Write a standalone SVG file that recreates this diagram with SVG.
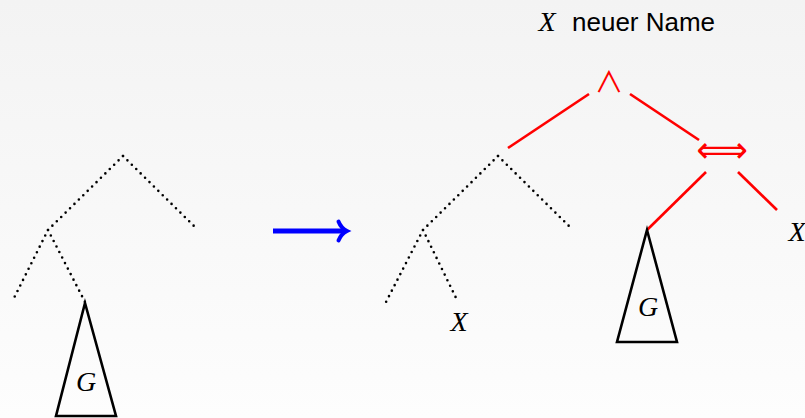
<svg xmlns="http://www.w3.org/2000/svg" width="805" height="418" viewBox="0 0 805 418">
<style>
.dot{fill:none;stroke:#000;stroke-width:2.6;stroke-linecap:round;stroke-dasharray:0 6.2}
.red{fill:none;stroke:#ff0000;stroke-width:2.6}
.tri{fill:none;stroke:#000;stroke-width:2.6;stroke-linejoin:miter}
.mi{font-family:"Liberation Serif",serif;font-style:italic;font-size:28px;fill:#000}
.sans{font-family:"Liberation Sans",sans-serif;font-size:26px;fill:#000}
.op{font-family:"DejaVu Sans",sans-serif;fill:#ff0000}
</style>
<defs>
<linearGradient id="bg" x1="0" y1="0" x2="0" y2="1">
<stop offset="0" stop-color="#f3f3f3"/>
<stop offset="1" stop-color="#fdfdfd"/>
</linearGradient>
</defs>
<rect width="805" height="418" fill="url(#bg)"/>
<g id="connectors">
<line class="dot" x1="123" y1="156" x2="197" y2="229"/>
<line class="dot" x1="123" y1="156" x2="48" y2="230"/>
<line class="dot" x1="48" y1="230" x2="12" y2="302"/>
<line class="dot" x1="48" y1="230" x2="85" y2="302"/>
<line class="dot" x1="498" y1="156" x2="572" y2="229"/>
<line class="dot" x1="498" y1="156" x2="423" y2="230"/>
<line class="dot" x1="423" y1="230" x2="386" y2="302"/>
<line class="dot" x1="423" y1="230" x2="458" y2="302"/>
<line class="red" x1="589" y1="94" x2="508" y2="148"/>
<line class="red" x1="630" y1="94" x2="699" y2="140"/>
<line class="red" x1="706" y1="172" x2="647" y2="230"/>
<line class="red" x1="738" y1="172" x2="777" y2="210"/>
<g id="transform-arrow">
<line x1="273" y1="231" x2="344" y2="231" stroke="#0000ff" stroke-width="5"/>
<path d="M338.5,221.5 Q341,228 347,231 Q341,234 338.5,240.5" fill="none" stroke="#0000ff" stroke-width="4" stroke-linecap="round"/>
</g>
</g>
<g id="tree-G-left">
<polygon class="tri" points="85,303 116,416 56,416"/>
<text class="mi" x="86" y="391" text-anchor="middle">G</text>
</g>
<g id="tree-G-right">
<polygon class="tri" points="647,230 677,342 617,342"/>
<text class="mi" x="648" y="316" text-anchor="middle">G</text>
</g>
<g id="leaf-X-left">
<text class="mi" x="459" y="331" text-anchor="middle">X</text>
</g>
<g id="leaf-X-right">
<text class="mi" x="797" y="241" text-anchor="middle">X</text>
</g>
<g id="node-and">
<text x="609" y="93" font-family="'Noto Sans CJK JP',sans-serif" font-size="29" fill="#ff0000" text-anchor="middle">∧</text>
</g>
<g id="node-iff">
<text class="op" x="722" y="162" font-size="36" text-anchor="middle">⟺</text>
</g>
<g id="title">
<text class="mi" x="547" y="31" text-anchor="middle">X</text>
<text class="sans" x="572" y="31">neuer Name</text>
</g>
</svg>
